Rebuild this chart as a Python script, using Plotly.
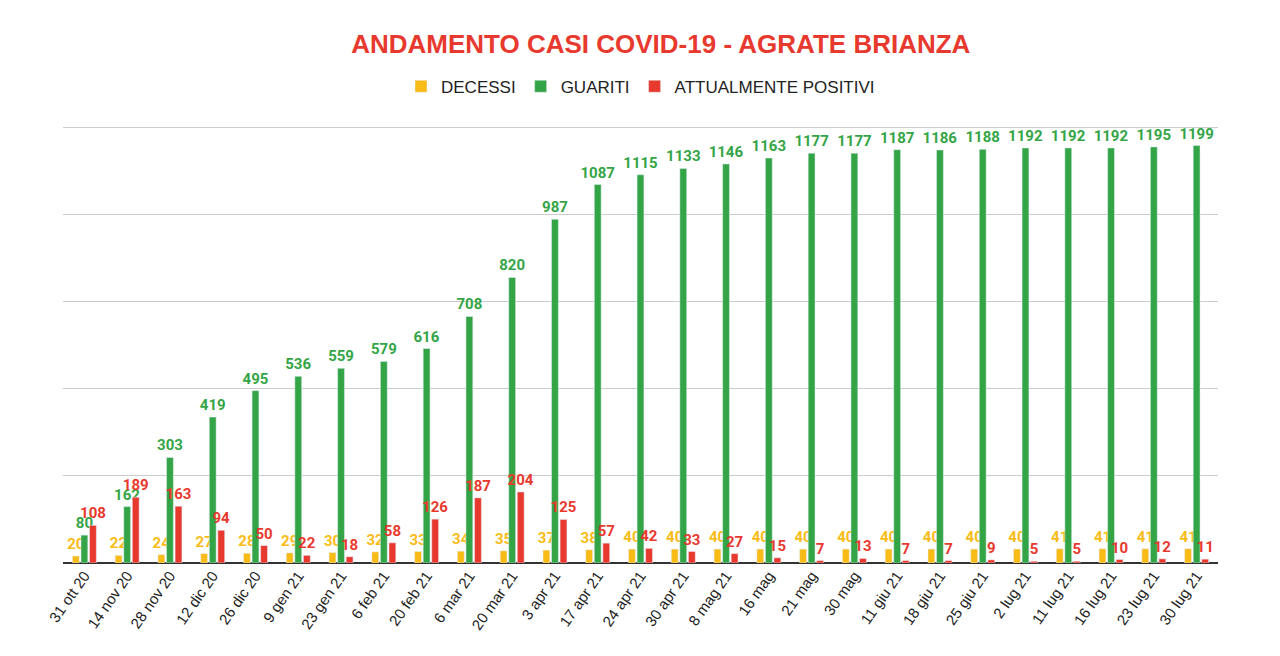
import plotly.graph_objects as go

dates = ["31 ott 20","14 nov 20","28 nov 20","12 dic 20","26 dic 20","9 gen 21","23 gen 21","6 feb 21","20 feb 21","6 mar 21","20 mar 21","3 apr 21","17 apr 21","24 apr 21","30 apr 21","8 mag 21","16 mag","21 mag","30 mag","11 giu 21","18 giu 21","25 giu 21","2 lug 21","11 lug 21","16 lug 21","23 lug 21","30 lug 21"]
decessi = [20,22,24,27,28,29,30,32,33,34,35,37,38,40,40,40,40,40,40,40,40,40,40,41,41,41,41]
guariti = [80,162,303,419,495,536,559,579,616,708,820,987,1087,1115,1133,1146,1163,1177,1177,1187,1186,1188,1192,1192,1192,1195,1199]
positivi = [108,189,163,94,50,22,18,58,126,187,204,125,57,42,33,27,15,7,13,7,7,9,5,5,10,12,11]

series = [("DECESSI", decessi, "#f9bb16"), ("GUARITI", guariti, "#34a546"), ("ATTUALMENTE POSITIVI", positivi, "#e8392e")]
fig = go.Figure()
for name, vals, col in series:
    fig.add_trace(go.Bar(x=dates, y=vals, name=name, marker_color=col, text=vals,
                         textposition="outside", cliponaxis=False,
                         textfont=dict(color=col, size=15, family="Roboto", weight="bold")))
fig.update_layout(
    width=1280, height=656, barmode="group", bargap=0.4, bargroupgap=0.2,
    uniformtext=dict(minsize=15, mode="show"),
    plot_bgcolor="white", paper_bgcolor="white",
    title=dict(text="<b>ANDAMENTO CASI COVID-19 - AGRATE BRIANZA</b>", x=0.51, y=0.945, xanchor="center", yanchor="middle",
               font=dict(color="#e8392e", size=26, family="Liberation Sans")),
    legend=dict(orientation="h", x=0.5, xanchor="center", y=1.09, yanchor="middle",
                font=dict(size=17, family="Liberation Sans", color="#222")),
    margin=dict(l=55, r=70, t=118, b=101),
    font=dict(family="Liberation Sans"),
    yaxis=dict(range=[0, 1255], tickvals=[0,250,500,750,1000,1250], showticklabels=False,
               gridcolor="#cccccc", zeroline=True, zerolinecolor="#333", zerolinewidth=2),
    xaxis=dict(tickangle=-55, tickfont=dict(size=15, color="#222")),
)
fig.write_html("out.html")
